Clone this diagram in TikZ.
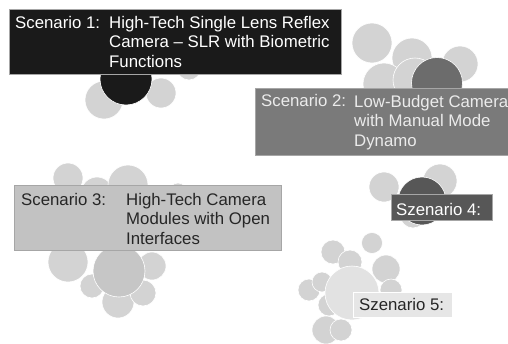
\documentclass[tikz,border=0pt]{standalone}
\usepackage{fontspec}
\setmainfont{Liberation Sans}
\definecolor{bubblegray}{HTML}{D3D3D3}
\definecolor{midbubble}{HTML}{C6C6C6}
\definecolor{palebubble}{HTML}{E2E2E2}
\definecolor{slrblack}{HTML}{1A1A1A}
\definecolor{lowgray}{HTML}{7A7A7A}
\definecolor{lowbubble}{HTML}{6C6C6C}
\definecolor{modgray}{HTML}{C2C2C2}
\definecolor{szgray}{HTML}{575757}
\definecolor{szlight}{HTML}{E6E6E6}
\definecolor{darktext}{HTML}{262626}

\begin{document}
\begin{tikzpicture}[x=1pt,y=-1pt,font=\fontsize{16.8}{19.5}\selectfont,
    bubble/.style={fill=bubblegray,draw=white,line width=0.6pt},
    scenbox/.style={rectangle,anchor=north west,inner sep=0pt,draw=gray!70,line width=0.4pt},
    lbl/.style={anchor=base west,inner sep=0pt,align=left}]
    \useasboundingbox (0,0) rectangle (508,343);

    % scenario 1 bubbles
      \draw[bubble] (104,100) circle (19);
      \draw[bubble] (161,93) circle (15);
      \draw[bubble] (189,68) circle (12);
      \draw[bubble,fill=slrblack] (126,79) circle (26);

    % scenario 2 bubbles
      \draw[bubble] (372,43) circle (20);
      \draw[bubble] (412,58) circle (20);
      \draw[bubble] (460,64) circle (18);
      \draw[bubble] (384,84) circle (21);
      \draw[bubble] (415,80) circle (22);
      \draw[bubble,fill=lowbubble] (437,83) circle (25.5);

    % scenario 3 bubbles
      \draw[bubble] (68,178) circle (15);
      \draw[bubble] (97,193) circle (16);
      \draw[bubble] (128,185) circle (20);
      \draw[bubble] (178,192) circle (9);
      \draw[bubble] (68,262) circle (20);
      \draw[bubble] (152,266) circle (14);
      \draw[bubble] (92,286) circle (12);
      \draw[bubble] (118,302) circle (16);
      \draw[bubble] (143,293) circle (13);
      \draw[bubble,fill=midbubble] (119,271) circle (26);

    % scenario 4 bubbles
      \draw[bubble] (384,187) circle (15);
      \draw[bubble] (440,181) circle (17);
      \draw[bubble] (413,215) circle (13);
      \draw[bubble,fill=szgray] (422,201) circle (24);

    % scenario 5 bubbles
      \draw[bubble] (372,243) circle (10.5);
      \draw[bubble] (333,252) circle (12);
      \draw[bubble] (350,262) circle (12);
      \draw[bubble] (386,269) circle (14);
      \draw[bubble] (309,290) circle (11);
      \draw[bubble] (322,282) circle (10);
      \draw[bubble] (329,305) circle (11);
      \draw[bubble] (391,290) circle (11);
      \draw[bubble] (326,330) circle (14);
      \draw[bubble] (341,330) circle (11);
      \draw[bubble,fill=palebubble] (352,293) circle (27);

    % scenario boxes (multi-line text sits on its last baseline)
      \node[scenbox,fill=slrblack,minimum width=332pt,minimum height=65pt] (s1box) at (9,9) {};
      \node[lbl,text=white] (s1lbl) at (15,28) {Scenario 1:};
      \node[lbl,text=white] (s1txt) at (109,67) {High-Tech Single Lens Reflex\\Camera -- SLR with Biometric\\Functions};

      \node[scenbox,fill=lowgray,minimum width=255pt,minimum height=67pt] (s2box) at (255,88) {};
      \node[lbl,text=white!92!black] (s2lbl) at (261,106) {Scenario 2:};
      \node[lbl,text=white!92!black] (s2txt) at (354,146) {Low-Budget Camera\\with Manual Mode\\Dynamo};

      \node[scenbox,fill=modgray,minimum width=267pt,minimum height=65pt] (s3box) at (14,185) {};
      \node[lbl,text=darktext] (s3lbl) at (21,205) {Scenario 3:};
      \node[lbl,text=darktext] (s3txt) at (126,244) {High-Tech Camera\\Modules with Open\\Interfaces};

      \node[scenbox,fill=szgray,minimum width=101pt,minimum height=26pt] (s4box) at (391,194) {};
      \node[lbl,text=white] (s4lbl) at (396,215) {Szenario 4:};

      \node[scenbox,fill=szlight,draw=white,minimum width=99pt,minimum height=25pt] (s5box) at (353,292) {};
      \node[lbl,text=darktext] (s5lbl) at (359,310) {Szenario 5:};

\end{tikzpicture}
\end{document}
